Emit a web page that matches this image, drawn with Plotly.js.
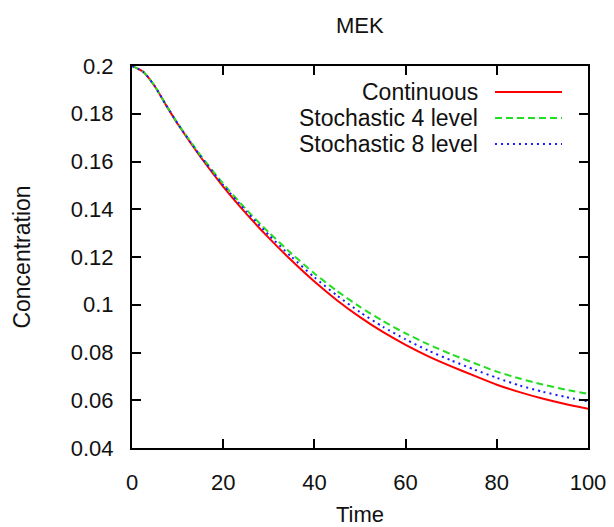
<!DOCTYPE html>
<html>
<head>
<meta charset="utf-8">
<script src="https://cdn.plot.ly/plotly-3.0.1.min.js"></script>
<style>html,body{margin:0;padding:0;background:#fff;}#chart{width:614px;height:527px;}</style>
</head>
<body>
<div id="chart"></div>
<script>
var time = [0,2.5,5,7.5,10,15,20,25,30,35,40,45,50,55,60,65,70,75,80,85,90,95,100];
var continuous = [0.2000,0.1975,0.1915,0.1835,0.1758,0.1620,0.1495,0.1383,0.1280,0.1185,0.1097,0.1018,0.0948,0.0886,0.0832,0.0784,0.0742,0.0703,0.0665,0.0634,0.0607,0.0584,0.0564];
var stoch4 = [0.2000,0.1975,0.1915,0.1836,0.1760,0.1627,0.1507,0.1400,0.1303,0.1214,0.1131,0.1057,0.0991,0.0932,0.0880,0.0834,0.0793,0.0756,0.0720,0.0691,0.0666,0.0645,0.0627];
var stoch8 = [0.2000,0.1975,0.1915,0.1835,0.1759,0.1623,0.1501,0.1392,0.1292,0.1200,0.1115,0.1038,0.0969,0.0908,0.0855,0.0808,0.0767,0.0729,0.0694,0.0662,0.0636,0.0614,0.0595];
var seriesNames = ["Continuous","Stochastic 4 level","Stochastic 8 level"];
var xTicks = [0,20,40,60,80,100];
var yTicks = [0.04,0.06,0.08,0.1,0.12,0.14,0.16,0.18,0.2];
var yTickText = ["0.04","0.06","0.08","0.1","0.12","0.14","0.16","0.18","0.2"];

var FONT = '"Liberation Sans", Arial, sans-serif';
var colors = ['#ff0000', '#22dd22', '#1a1aff'];
var dashes = ['solid', '7px,4px', '2px,4px'];
var series = [continuous, stoch4, stoch8];

var traces = series.map(function(s, i){
  return {x: time, y: s, type: 'scatter', mode: 'lines', name: seriesNames[i],
    line: {color: colors[i], width: 2, dash: dashes[i], shape: 'spline', smoothing: 0.6}, showlegend: false};
});

var legY = [0.932, 0.864, 0.796];
var annotations = seriesNames.map(function(n, i){
  return {xref: 'paper', yref: 'paper', x: 0.7634, y: legY[i], text: n, showarrow: false,
    xanchor: 'right', yanchor: 'middle', font: {family: FONT, size: 23, color: '#111'}};
});
var shapes = seriesNames.map(function(n, i){
  return {type: 'line', xref: 'paper', yref: 'paper', x0: 0.796, x1: 0.943, y0: legY[i], y1: legY[i],
    line: {color: colors[i], width: 2, dash: dashes[i]}};
});

var axisCommon = {showline: true, linecolor: '#000', linewidth: 2, mirror: 'ticks', ticks: 'inside',
  ticklen: 9, tickwidth: 2, tickcolor: '#000', showgrid: false, zeroline: false,
  tickfont: {family: FONT, size: 22, color: '#111'}};

var layout = {
  width: 614, height: 527,
  margin: {l: 131.5, r: 26, t: 66, b: 79, pad: 0},
  paper_bgcolor: '#fff', plot_bgcolor: '#fff',
  title: {text: 'MEK', x: 0.586, xanchor: 'center', y: 0.952, yanchor: 'middle', font: {family: FONT, size: 22, color: '#111'}},
  xaxis: Object.assign({}, axisCommon, {range: [0, 100], tickvals: xTicks, ticklabelstandoff: 14,
    title: {text: 'Time', standoff: 13, font: {family: FONT, size: 22, color: '#111'}}}),
  yaxis: Object.assign({}, axisCommon, {range: [0.04, 0.2], tickvals: yTicks, ticktext: yTickText, ticklabelstandoff: 12,
    title: {text: 'Concentration', standoff: 34, font: {family: FONT, size: 23, color: '#111'}}}),
  annotations: annotations,
  shapes: shapes
};

Plotly.newPlot('chart', traces, layout, {displayModeBar: false, staticPlot: true});
</script>
</body>
</html>
